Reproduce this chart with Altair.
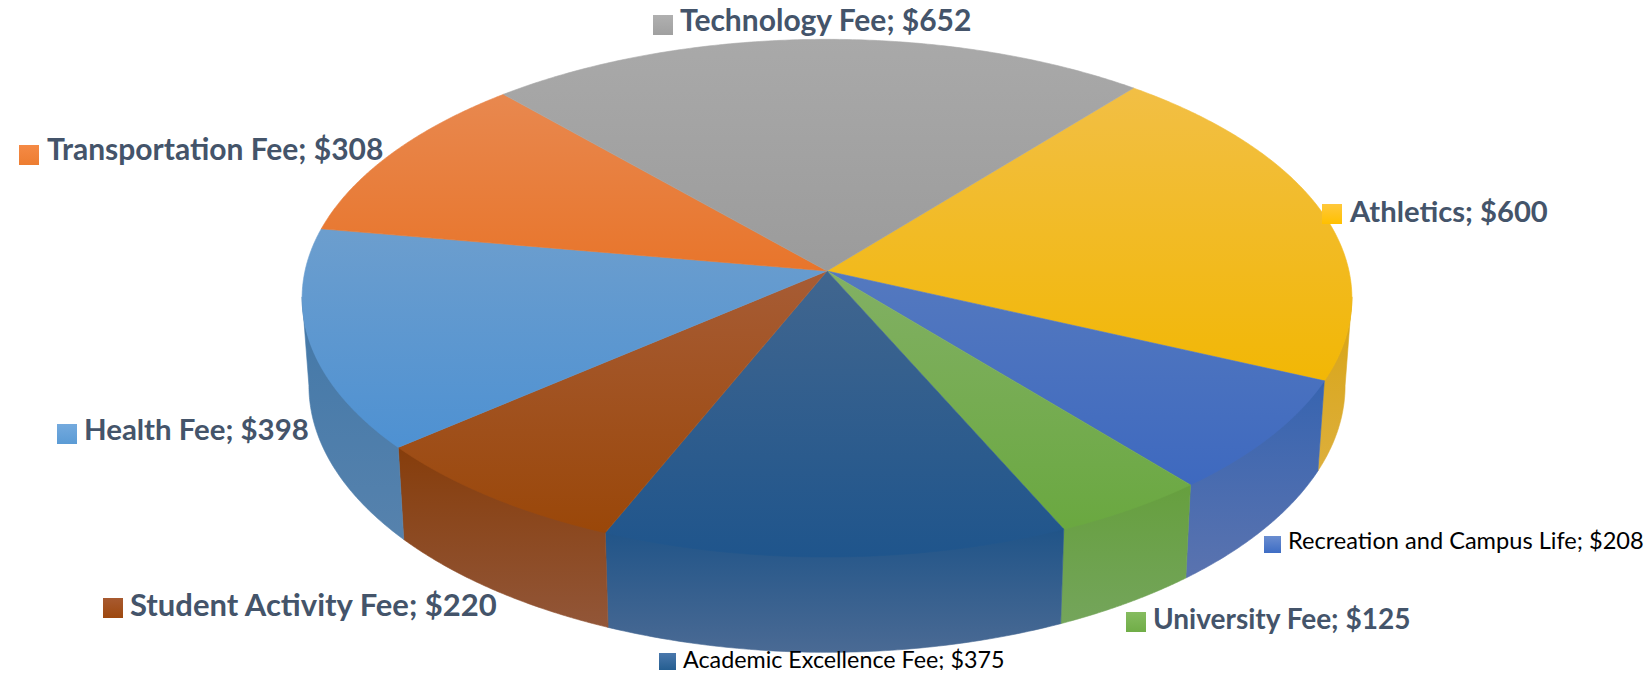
import numpy as np
import altair as alt

CATEGORIES = ["Athletics", "Recreation and Campus Life", "University Fee",
              "Academic Excellence Fee", "Student Activity Fee", "Health Fee",
              "Transportation Fee", "Technology Fee"]
VALUES = [600, 208, 125, 375, 220, 398, 308, 652]
TOP_LIGHT = ["#F2BF45", "#5479BF", "#82B064", "#41668F", "#A75C35", "#6C9ECE", "#E8884F", "#A9A9A9"]
TOP_DARK = ["#F2B705", "#3E69BF", "#6AA840", "#1F558C", "#9A4709", "#4E91D2", "#E8752B", "#9B9B9B"]
WALL_TOP = ["#D8A412", "#3764B0", "#669F3E", "#205488", "#863D0B", "#4378A8", "#E8752B", "#9D9D9D"]
WALL_BOTTOM = ["#DDAF3C", "#5A73AF", "#74A55B", "#4A6A94", "#925638", "#5682AD", "#E8752B", "#9D9D9D"]
KEY_LIGHT = ["#FFC83C", "#6A8DD0", "#86BC60", "#4A78AC", "#A85A30", "#74AADE", "#F58A45", "#B0B0B0"]
KEY_DARK = ["#FFC000", "#3E6DC4", "#70AD47", "#255E91", "#9E480E", "#5B9BD5", "#ED7D31", "#A0A0A0"]

# label layout: key left, key top, key size, text x, baseline, font size, weight, colour
LABEL_LAYOUT = {
    "Athletics": (1322, 204, 20, 1350, 222, 29.2, "bold", "#44546A"),
    "Recreation and Campus Life": (1264, 536, 17, 1288, 549, 23.6, "normal", "#000000"),
    "University Fee": (1126, 612, 20, 1153, 629, 28, "bold", "#44546A"),
    "Academic Excellence Fee": (659, 653, 17, 683, 668, 23.3, "normal", "#000000"),
    "Student Activity Fee": (103, 598, 20, 130, 616, 31, "bold", "#44546A"),
    "Health Fee": (57, 424, 20, 84, 440, 29.4, "bold", "#44546A"),
    "Transportation Fee": (19, 145, 20, 47, 160, 30, "bold", "#44546A"),
    "Technology Fee": (653, 15, 20, 680, 31, 30, "bold", "#44546A"),
}

# pie geometry (page pixels)
CX, CY, A, B, K = 827.0, 271.0, 522.0, 256.0, 0.105
START_DEG = 39.4
WALL_FROM, WALL_TO = 96.0, 264.0
OFFSET = 8


def rim(theta_deg):
    t = np.radians(np.asarray(theta_deg, dtype=float))
    u, v = np.sin(t), -np.cos(t)
    w = 1 - K * v
    return CX + A * u / w, CY + B * v / w


def lower(x, y):
    return CX + (x - CX) * 0.987, y + 90 + (y - 380) * 0.03


def feature(xs, ys):
    ring = [[float(a) - OFFSET, float(b) - OFFSET] for a, b in zip(xs, ys)]
    ring.append(ring[0])
    return {"type": "Feature", "properties": {}, "geometry": {"type": "Polygon", "coordinates": [ring]}}


def vgrad(c0, c1):
    return alt.Gradient(gradient="linear", x1=0, y1=0, x2=0, y2=1,
                        stops=[alt.GradientStop(color=c0, offset=0), alt.GradientStop(color=c1, offset=1)])


projection = alt.Projection(type="identity", scale=1, translate=[0, 0])
total = sum(VALUES)
edges = START_DEG + 360 * np.concatenate([[0], np.cumsum(VALUES)]) / total

walls, tops, keys = [], [], []
for i, name in enumerate(CATEGORIES):
    a0, a1 = edges[i], edges[i + 1]
    lo, hi = max(a0, WALL_FROM), min(a1, WALL_TO)
    if hi > lo:
        th = np.linspace(lo, hi, 80)
        x, y = rim(th)
        xb, yb = lower(x, y)
        yt = y - 1.2  # tucked under the top face
        f = feature(np.concatenate([x, xb[::-1]]), np.concatenate([yt, yb[::-1]]))
        g = vgrad(WALL_TOP[i], WALL_BOTTOM[i])
        walls.append(alt.Chart(alt.InlineData(values=[f])).mark_geoshape(
            fill=g, stroke=g, strokeWidth=0.6).project(**projection.to_dict()))
    th = np.linspace(a0, a1, 160)
    x, y = rim(th)
    f = feature(np.concatenate([[CX], x]), np.concatenate([[CY], y]))
    g = vgrad(TOP_LIGHT[i], TOP_DARK[i])
    tops.append(alt.Chart(alt.InlineData(values=[f])).mark_geoshape(
        fill=g, stroke=g, strokeWidth=0.6).project(**projection.to_dict()))

    kx, ky, ks, tx, ty, fs, weight, colour = LABEL_LAYOUT[name]
    row = {"label": f"{name}; ${VALUES[i]}"}
    keys.append(alt.Chart(alt.InlineData(values=[row])).mark_rect(fill=vgrad(KEY_LIGHT[i], KEY_DARK[i])).encode(
        x=alt.value(kx - OFFSET), x2=alt.value(kx + ks - OFFSET),
        y=alt.value(ky - OFFSET), y2=alt.value(ky + ks - OFFSET)))
    keys.append(alt.Chart(alt.InlineData(values=[row])).mark_text(
        align="left", baseline="alphabetic", font="Lato", fontSize=fs, fontWeight=weight, color=colour).encode(
        text="label:N", x=alt.value(tx - OFFSET), y=alt.value(ty - OFFSET)))

chart = alt.layer(*walls, *tops, *keys).properties(
    width=1636, height=662, padding=0,
    autosize=alt.AutoSizeParams(type="none", contains="padding"),
).configure_view(stroke=None)

chart.save("out.html", embed_options={"renderer": "svg", "actions": False})
